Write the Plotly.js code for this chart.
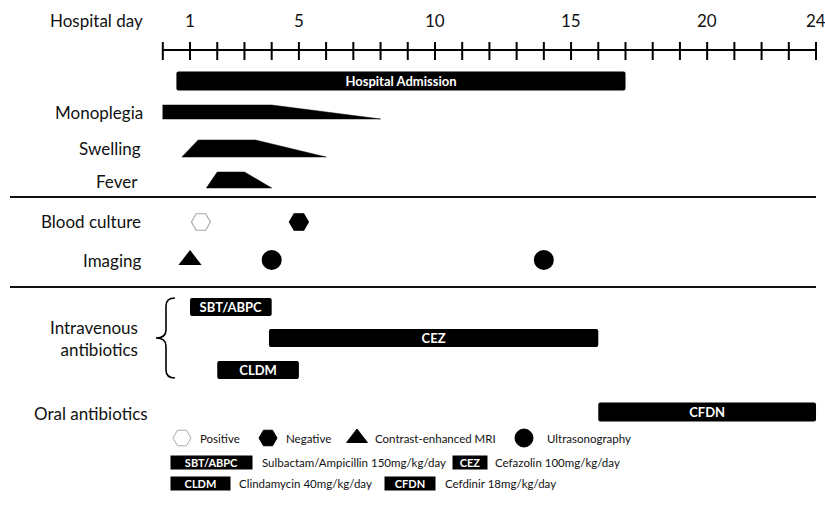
<!DOCTYPE html>
<html><head><meta charset="utf-8">
<script src="https://cdn.plot.ly/plotly-3.0.1.min.js"></script>
<style>html,body{margin:0;padding:0;background:#fff}#chart{width:825px;height:508px}</style>
</head><body><div id="chart"></div>
<script>
// ---- data (hospital days) ----
const tickDays = [1, 5, 10, 15, 20, 24];
const barLabels = ['Hospital Admission', 'SBT/ABPC', 'CEZ', 'CLDM', 'CFDN'];
const barStart = [0.5, 1, 3.9, 2, 16];
const barEnd = [17, 4, 16, 5, 24];
const symptomNames = ['Monoplegia', 'Swelling', 'Fever'];
const symptomOnset = [0, 0.7, 1.6];
const symptomPeakStart = [0, 1.3, 2.0];
const symptomPeakEnd = [4, 3.4, 3.0];
const symptomResolve = [8, 6.0, 4.0];
const cultureDays = [1.4, 5];
const cultureResults = ['Positive', 'Negative'];
const imagingDays = [1, 4, 14];
const imagingTypes = ['Contrast-enhanced MRI', 'Ultrasonography', 'Ultrasonography'];

// ---- layout (pixel rows) ----
const FONT = 'Lato, "Open Sans", sans-serif';
const barRowY = [81, 307, 338, 370, 412];
const barH = [19, 18, 18, 18, 19];
const symTop = [105, 140, 172];
const symBot = [119, 157, 188];
const cultureY = 222, imagingY = 260;
const symbolFor = {
  'Positive': 'hexagon2-open', 'Negative': 'hexagon2',
  'Contrast-enhanced MRI': 'triangle-up', 'Ultrasonography': 'circle'
};

const traces = [];
traces.push({
  type: 'bar', orientation: 'h',
  y: barRowY, base: barStart, x: barEnd.map((e, i) => e - barStart[i]),
  width: barH, text: barLabels, textposition: 'inside', insidetextanchor: 'middle',
  constraintext: 'none', textangle: 0,
  textfont: {family: FONT, size: 13, color: '#fff', weight: 'bold'},
  marker: {color: '#000', line: {width: 0}, cornerradius: 2},
  hoverinfo: 'skip'
});
symptomNames.forEach((n, i) => {
  traces.push({
    type: 'scatter', mode: 'lines', fill: 'toself', fillcolor: '#000',
    x: [symptomOnset[i], symptomPeakStart[i], symptomPeakEnd[i], symptomResolve[i], symptomOnset[i]],
    y: [symBot[i], symTop[i], symTop[i], symBot[i], symBot[i]],
    line: {color: '#000', width: 0.5}, hoverinfo: 'skip', name: n
  });
});
traces.push({
  type: 'scatter', mode: 'markers', x: cultureDays, y: cultureDays.map(() => cultureY),
  marker: {symbol: cultureResults.map(r => symbolFor[r]), size: 19, opacity: 1,
    color: cultureResults.map(r => r === 'Positive' ? '#aaa' : '#000'),
    line: {width: 1.2, color: cultureResults.map(r => r === 'Positive' ? '#aaa' : '#000')}},
  hoverinfo: 'skip'
});
traces.push({
  type: 'scatter', mode: 'markers', x: imagingDays, y: imagingDays.map(() => imagingY),
  marker: {symbol: imagingTypes.map(t => symbolFor[t]), size: 20, opacity: 1,
    color: '#000', line: {width: 0}},
  hoverinfo: 'skip'
});
// legend symbols (pixel axis x2)
const legSym = ['Positive', 'Negative', 'Contrast-enhanced MRI', 'Ultrasonography'];
const legSymX = [182, 268, 357, 524];
const legTextX = [198, 284, 373, 545];
traces.push({
  type: 'scatter', mode: 'markers', xaxis: 'x2', yaxis: 'y',
  x: legSymX, y: legSymX.map(() => 438),
  marker: {symbol: legSym.map(s => symbolFor[s]), size: 18, opacity: 1,
    color: legSym.map(s => s === 'Positive' ? '#aaa' : '#000'),
    line: {width: 1, color: legSym.map(s => s === 'Positive' ? '#aaa' : '#000')}},
  hoverinfo: 'skip'
});

const shapes = [];
// timeline axis
shapes.push({type: 'line', xref: 'x', yref: 'y', x0: 0, x1: 24, y0: 50, y1: 50, line: {color: '#000', width: 2}});
for (let d = 0; d <= 24; d++) {
  shapes.push({type: 'line', xref: 'x', yref: 'y', x0: d, x1: d, y0: 42, y1: 60, line: {color: '#000', width: 2}});
}
// separators
[197, 287].forEach(y => shapes.push({type: 'line', xref: 'x2', yref: 'y', x0: 10, x1: 816, y0: y, y1: y, line: {color: '#111', width: 2}}));
// brace
shapes.push({type: 'path', xref: 'x2', yref: 'y',
  path: 'M 175 298 Q 166 298 166 306 L 166 330 Q 166 338 156 338 Q 166 338 166 346 L 166 370 Q 166 378 175 378',
  line: {color: '#000', width: 1.6}});

const ann = [];
const txt = (x, y, text, anchor, size, opts) => Object.assign({
  xref: 'x2', yref: 'y', x: x, y: y, text: text, showarrow: false, xanchor: anchor, yanchor: 'middle',
  font: {family: FONT, size: size, color: '#111'}
}, opts || {});
ann.push(txt(145, 20, 'Hospital day', 'right', 17));
tickDays.forEach(d => ann.push({xref: 'x', yref: 'y', x: d, y: 20, text: String(d), showarrow: false,
  xanchor: 'center', yanchor: 'middle', font: {family: FONT, size: 17, color: '#111'}}));
ann.push(txt(145, 112, 'Monoplegia', 'right', 17));
ann.push(txt(143, 148, 'Swelling', 'right', 17));
ann.push(txt(140, 181, 'Fever', 'right', 17));
ann.push(txt(143, 221, 'Blood culture', 'right', 17));
ann.push(txt(143, 260, 'Imaging', 'right', 17));
ann.push(txt(140, 338, 'Intravenous<br>antibiotics', 'right', 17, {align: 'right'}));
ann.push(txt(32, 413, 'Oral antibiotics', 'left', 17));
// legend texts
legSym.forEach((s, i) => ann.push(txt(legTextX[i], 438, s, 'left', 11.5)));
const legBoxes = [
  ['SBT/ABPC', 211, 462, 81, 'Sulbactam/Ampicillin 150mg/kg/day', 260],
  ['CEZ', 470, 462, 34, 'Cefazolin 100mg/kg/day', 493],
  ['CLDM', 200, 483, 59, 'Clindamycin 40mg/kg/day', 237],
  ['CFDN', 410, 483, 50, 'Cefdinir 18mg/kg/day', 443]
];
legBoxes.forEach(b => {
  ann.push(txt(b[1], b[2], b[0], 'center', 11, {width: b[3], height: 13, bgcolor: '#000', borderpad: 0,
    font: {family: FONT, size: 11, color: '#fff', weight: 'bold'}}));
  ann.push(txt(b[5], b[2], b[4], 'left', 11.5));
});

const layout = {
  width: 825, height: 508, margin: {l: 0, r: 0, t: 0, b: 0},
  paper_bgcolor: '#fff', plot_bgcolor: '#fff', showlegend: false,
  xaxis: {range: [-5.982, 24.330], visible: false, fixedrange: true},
  xaxis2: {range: [0, 825], overlaying: 'x', visible: false, fixedrange: true},
  yaxis: {range: [508, 0], visible: false, fixedrange: true},
  shapes: shapes, annotations: ann
};
Plotly.newPlot('chart', traces, layout, {staticPlot: true, displayModeBar: false});
</script></body></html>
